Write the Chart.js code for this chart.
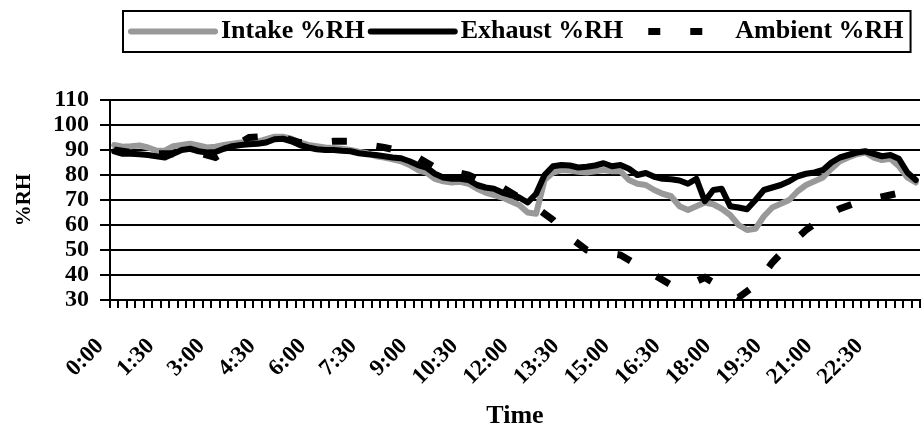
<!DOCTYPE html>
<html><head><meta charset="utf-8">
<script src="https://cdn.jsdelivr.net/npm/chart.js@4.4.0/dist/chart.umd.min.js"></script>
<style>html,body{margin:0;padding:0;background:#fff;}canvas{display:block;}</style>
</head><body>
<canvas id="c" width="922" height="432"></canvas>
<script>
const categories = [
'0:00','0:15','0:30','0:45','1:00','1:15','1:30','1:45','2:00','2:15','2:30','2:45',
'3:00','3:15','3:30','3:45','4:00','4:15','4:30','4:45','5:00','5:15','5:30','5:45',
'6:00','6:15','6:30','6:45','7:00','7:15','7:30','7:45','8:00','8:15','8:30','8:45',
'9:00','9:15','9:30','9:45','10:00','10:15','10:30','10:45','11:00','11:15','11:30','11:45',
'12:00','12:15','12:30','12:45','13:00','13:15','13:30','13:45','14:00','14:15','14:30','14:45',
'15:00','15:15','15:30','15:45','16:00','16:15','16:30','16:45','17:00','17:15','17:30','17:45',
'18:00','18:15','18:30','18:45','19:00','19:15','19:30','19:45','20:00','20:15','20:30','20:45',
'21:00','21:15','21:30','21:45','22:00','22:15','22:30','22:45','23:00','23:15','23:30','23:45'];

const shownTickLabels = ['0:00','1:30','3:00','4:30','6:00','7:30','9:00','10:30','12:00','13:30','15:00','16:30','18:00','19:30','21:00','22:30'];

const intakeRH = [
92,91.3,91.5,91.8,91,89.8,89.7,91.5,92,92.5,
91.8,91,91.3,92,92.5,93,93,93.3,94.3,95.3,
95.3,94.5,93,92,91.5,91,90.8,90.5,90,89.3,
88.7,87.5,87,86.3,85.5,84,82,81,78.5,77.5,
77,77.3,76.5,74.5,73,72,71,69.5,68,65,
64.5,78,81,82,81.8,81.3,81,81.5,82,81.5,
81.5,78,76.5,76,74,72.5,71.5,67.5,66,67.5,
69,68.3,66.5,64,60,58,58.5,63.5,67,68.5,
70,73.5,76,77.5,79,82.5,85.5,87,88.3,89,
87,86,86.5,83.5,79,77];

const exhaustRH = [
89.5,88.5,88.5,88.3,88,87.5,87,88.5,90,90.5,
89.5,89,89.2,90.5,91.5,92,92.3,92.5,93,94.3,
94.5,93.5,92,91,90.3,90,90,89.7,89.5,88.7,
88.3,88,87.5,87,86.7,85.5,84,83,80.5,79,
78.5,78.5,78,76,75,74.5,73,72,71,69,
72.5,80,83.5,84,83.8,83,83.3,83.8,84.7,83.5,
84,82.5,80,80.8,79.3,78.5,78.3,77.8,76.5,78.5,
69.5,74,74.5,67.5,67,66.3,70,74,75,76,
77.5,79.5,80.5,81,82,85,87,88,89,89.5,
88.5,87.5,88,86.5,81,78];

const ambientRH = [
90,null,89,null,88.5,null,88.5,null,88.5,null,
89,null,87,null,91,null,95,null,95.5,null,
95,null,93,null,93,null,93.5,null,93.5,null,
92,null,91,null,89.5,null,87,null,83,null,
81.5,null,80,null,77,null,75,null,71,null,
67,null,62,null,55,null,50,null,49,null,
48,null,44,null,40,null,36,null,36,null,
39,null,35,null,31,null,36,null,45,null,
52,null,58,null,63,null,66.5,null,69,null,
70.5,null,72,null,73.5,74];

const seriesNames = ['Intake %RH', 'Exhaust %RH', 'Ambient %RH'];
const yMin = 30, yMax = 110, yStep = 10;

const FONT_FAMILY = '"Liberation Serif", "Times New Roman", serif';

const boxLegend = {
  id: 'boxLegend',
  afterDraw(chart) {
    const ctx = chart.ctx;
    const ds = chart.data.datasets;
    ctx.save();
    ctx.font = 'bold 26px ' + FONT_FAMILY;
    ctx.textBaseline = 'middle';
    ctx.textAlign = 'left';
    const top = 11, bottom = 52, cy = 31.5;
    const left = 123;
    let x = left + 5;
    ds.forEach(d => {
      const dashed = Array.isArray(d.borderDash) && d.borderDash.length;
      const len = dashed ? 106 : 90;
      ctx.beginPath();
      ctx.strokeStyle = d.borderColor;
      ctx.lineWidth = d.borderWidth;
      if (dashed) {
        ctx.setLineDash([12, 30]);
        ctx.lineDashOffset = 20;
        ctx.lineCap = 'butt';
        ctx.moveTo(x, cy); ctx.lineTo(x + len, cy);
      } else {
        ctx.setLineDash([]);
        ctx.lineCap = 'round';
        ctx.moveTo(x + 3, cy); ctx.lineTo(x + len - 3, cy);
      }
      ctx.stroke();
      ctx.setLineDash([]);
      x += len + 3;
      ctx.fillStyle = '#000';
      ctx.fillText(d.label, x, cy);
      x += ctx.measureText(d.label).width + 3;
    });
    const right = x + 4;
    ctx.lineWidth = 2;
    ctx.strokeStyle = '#000';
    ctx.strokeRect(left, top, right - left, bottom - top);
    ctx.restore();
  }
};

new Chart(document.getElementById('c'), {
  type: 'line',
  data: {
    labels: categories,
    datasets: [
      { label: seriesNames[0], data: intakeRH, borderColor: '#999999', backgroundColor: '#999999',
        borderWidth: 6, borderJoinStyle: 'round', borderCapStyle: 'round', order: 3 },
      { label: seriesNames[1], data: exhaustRH, borderColor: '#000000', backgroundColor: '#000000',
        borderWidth: 6, borderJoinStyle: 'round', borderCapStyle: 'round', order: 2 },
      { label: seriesNames[2], data: ambientRH, borderColor: '#000000', backgroundColor: '#000000',
        borderWidth: 7, borderDash: [15, 30], borderCapStyle: 'butt', spanGaps: true, order: 1 }
    ]
  },
  options: {
    responsive: false,
    animation: false,
    layout: { padding: { top: 100, left: 6, right: 2, bottom: 0 } },
    elements: { point: { radius: 0 }, line: { tension: 0 } },
    plugins: { legend: { display: false }, tooltip: { enabled: false } },
    scales: {
      x: {
        offset: true,
        grid: { offset: true, drawOnChartArea: false, drawTicks: true, tickLength: 8, color: '#000', lineWidth: 2 },
        border: { color: '#000', width: 2 },
        ticks: {
          autoSkip: false, maxRotation: 45, minRotation: 45, color: '#000',
          padding: 25, labelOffset: -14,
          font: { family: FONT_FAMILY, size: 23, weight: 'bold' },
          callback: function (v, i) { const l = categories[i]; return shownTickLabels.includes(l) ? l : ''; }
        },
        title: { display: true, text: 'Time', color: '#000', padding: { top: 0, bottom: 0 },
          font: { family: FONT_FAMILY, size: 26, weight: 'bold' } },
        afterFit: s => { s.height = 132; s.paddingLeft = 0; s.paddingRight = 0; }
      },
      y: {
        min: yMin, max: yMax,
        grid: { color: '#000', lineWidth: 2, tickLength: 10 },
        border: { color: '#000', width: 2 },
        ticks: { stepSize: yStep, autoSkip: false, color: '#000', padding: 11,
          font: { family: FONT_FAMILY, size: 24, weight: 'bold' } },
        title: { display: true, text: '%RH', color: '#000', padding: { top: 6, bottom: 4 },
          font: { family: FONT_FAMILY, size: 21, weight: 'bold' } },
        afterFit: s => { s.width = 104; s.paddingTop = 0; s.paddingBottom = 0; }
      }
    }
  },
  plugins: [boxLegend]
});
</script>
</body></html>
